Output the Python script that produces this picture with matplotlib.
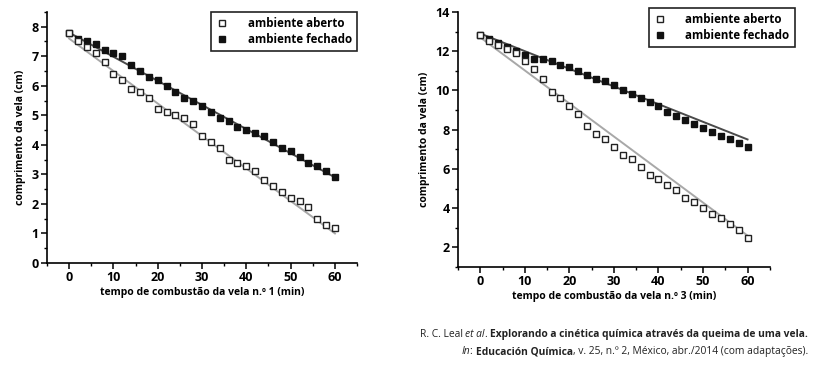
import numpy as np
import matplotlib.pyplot as plt
from matplotlib.ticker import MultipleLocator

plt.rcParams['font.family'] = ['Open Sans', 'DejaVu Sans']

# -------- DATA --------
tempo = list(range(0, 61, 2))

vela1_aberto = [7.8, 7.5, 7.3, 7.1, 6.8, 6.4, 6.2, 5.9, 5.8, 5.6, 5.2, 5.1, 5.0, 4.9, 4.7, 4.3,
                4.1, 3.9, 3.5, 3.4, 3.3, 3.1, 2.8, 2.6, 2.4, 2.2, 2.1, 1.9, 1.5, 1.3, 1.2]
vela1_fechado = [7.8, 7.6, 7.5, 7.4, 7.2, 7.1, 7.0, 6.7, 6.5, 6.3, 6.2, 6.0, 5.8, 5.6, 5.5, 5.3,
                 5.1, 4.9, 4.8, 4.6, 4.5, 4.4, 4.3, 4.1, 3.9, 3.8, 3.6, 3.4, 3.3, 3.1, 2.9]
vela1_fit_aberto = [7.6, 1.0]
vela1_fit_fechado = [7.8, 2.9]

vela3_aberto = [12.8, 12.5, 12.3, 12.1, 11.9, 11.5, 11.1, 10.6, 9.9, 9.6, 9.2, 8.8, 8.2, 7.8, 7.5, 7.1,
                6.7, 6.5, 6.1, 5.7, 5.5, 5.2, 4.9, 4.5, 4.3, 4.0, 3.7, 3.5, 3.2, 2.9, 2.5]
vela3_fechado = [12.8, 12.6, 12.4, 12.2, 12.0, 11.8, 11.6, 11.6, 11.5, 11.3, 11.2, 11.0, 10.8, 10.6, 10.5, 10.3,
                 10.0, 9.8, 9.6, 9.4, 9.2, 8.9, 8.7, 8.5, 8.3, 8.1, 7.9, 7.7, 7.5, 7.3, 7.1]
vela3_fit_aberto = [12.7, 2.6]
vela3_fit_fechado = [12.9, 7.5]
fit_x = [0, 60]

# -------- FIGURE --------
fig = plt.figure(figsize=(8.14, 3.67), dpi=100)
ax1 = fig.add_axes([0.0577, 0.2834, 0.381, 0.684])
ax2 = fig.add_axes([0.5627, 0.2725, 0.383, 0.695])


def draw_panel(ax, aberto, fechado, fit_ab, fit_fe, n, ylim, ymaj, anchor):
    ax.plot(fit_x, fit_ab, color='#a8a8a8', lw=1.4, zorder=1)
    ax.plot(fit_x, fit_fe, color='#4a4a4a', lw=1.4, zorder=1)
    ax.plot(tempo, fechado, 's', ms=4.7, color='#111111', mec='#111111', zorder=2,
            label='ambiente fechado')
    ax.plot(tempo, aberto, 's', ms=4.7, mfc='white', mec='#222222', mew=1.0, zorder=3,
            label='ambiente aberto')
    ax.set_xlim(-5, 65)
    ax.set_ylim(*ylim)
    ax.xaxis.set_major_locator(MultipleLocator(10))
    ax.xaxis.set_minor_locator(MultipleLocator(5))
    ax.yaxis.set_major_locator(MultipleLocator(ymaj))
    ax.yaxis.set_minor_locator(MultipleLocator(ymaj / 2))
    ax.set_xticks([0, 10, 20, 30, 40, 50, 60])
    for s in ['top', 'right']:
        ax.spines[s].set_visible(False)
    for s in ['left', 'bottom']:
        ax.spines[s].set_linewidth(1.2)
    ax.tick_params(which='major', length=4, width=1.1, labelsize=9, pad=2)
    ax.tick_params(which='minor', length=2.5, width=1.0)
    for lab in ax.get_xticklabels() + ax.get_yticklabels():
        lab.set_fontweight('bold')
    ax.set_xlabel('tempo de combustão da vela n.º %d (min)' % n, fontsize=7.5,
                  fontweight='bold', labelpad=2)
    ax.set_ylabel('comprimento da vela (cm)', fontsize=7.5, fontweight='bold', labelpad=4)
    h, l = ax.get_legend_handles_labels()
    leg = ax.legend(h[::-1], l[::-1], loc='upper right', bbox_to_anchor=anchor,
                    borderaxespad=0, fancybox=False, framealpha=1, edgecolor='#222222',
                    handlelength=1.0, handletextpad=1.7, borderpad=0.45, markerscale=0.85,
                    labelspacing=0.22, prop={'weight': 'bold', 'size': 8.3})
    leg.get_frame().set_linewidth(1.2)


draw_panel(ax1, vela1_aberto, vela1_fechado, vela1_fit_aberto, vela1_fit_fechado, 1,
           (0, 8.5), 1, (1.0, 1.0))
draw_panel(ax2, vela3_aberto, vela3_fechado, vela3_fit_aberto, vela3_fit_fechado, 3,
           (1, 14), 2, (1.08, 1.016))

# -------- CAPTION --------
linha1 = [('R. C. Leal ', 'normal', 'normal'), ('et al', 'normal', 'italic'),
          ('. ', 'normal', 'normal'),
          ('Explorando a cinética química através da queima de uma vela.', 'bold', 'normal')]
linha2 = [('In', 'normal', 'italic'), (': ', 'normal', 'normal'),
          ('Educación Química', 'bold', 'normal'),
          (', v. 25, n.º 2, México, abr./2014 (com adaptações).', 'normal', 'normal')]


def caption_chain(parts, x_right, y):
    # right to left: x from the left edge of the previous piece, y on a shared baseline
    last = fig.text(x_right, y, parts[-1][0], ha='right', va='baseline', fontsize=7.4,
                    fontweight=parts[-1][1], fontstyle=parts[-1][2], color='#222222')
    for txt, w, st in reversed(parts[:-1]):
        last = fig.add_artist(plt.Annotation(txt, xy=(0, y), xycoords=(last, 'figure fraction'),
                                             ha='right', va='baseline', fontsize=7.4,
                                             fontweight=w, fontstyle=st, color='#222222'))


caption_chain(linha1, 808 / 814, 1 - 337 / 367)
caption_chain(linha2, 808 / 814, 1 - 354 / 367)

fig.savefig('out.png', dpi=100)
